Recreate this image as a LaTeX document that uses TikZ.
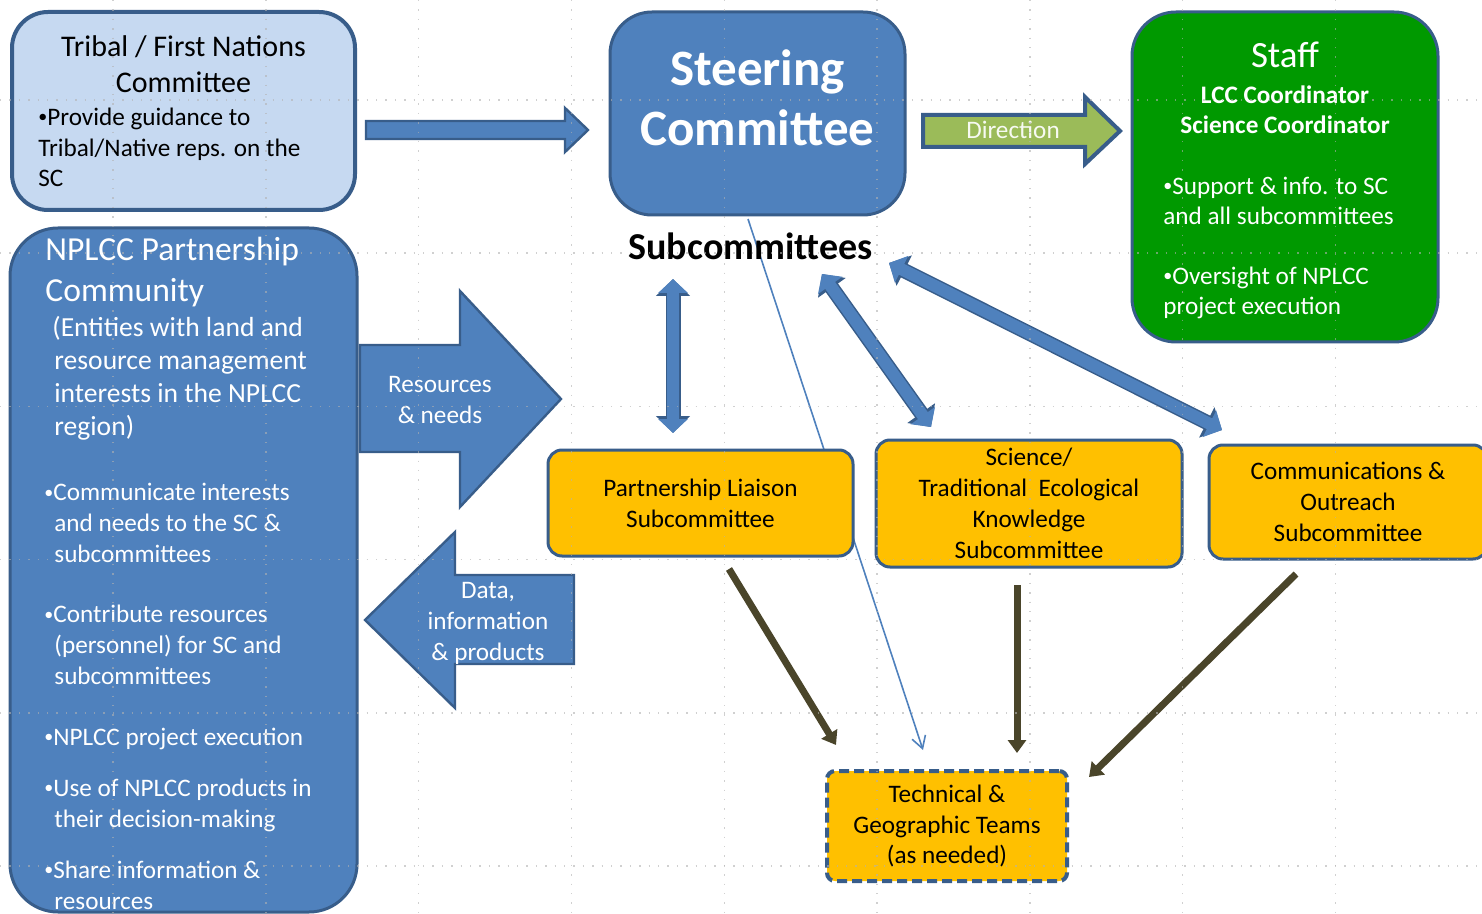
\documentclass[tikz,border=0pt]{standalone}
\usepackage{fontspec}
\setmainfont{Carlito}
\usetikzlibrary{arrows.meta}

\definecolor{sbfill}{RGB}{79,129,189}
\definecolor{sbline}{RGB}{56,93,138}
\definecolor{tribalfill}{RGB}{198,217,241}
\definecolor{staffgreen}{RGB}{0,153,0}
\definecolor{dirgreen}{RGB}{155,187,89}
\definecolor{subyellow}{RGB}{255,192,0}
\definecolor{darkolive}{RGB}{74,69,42}

\newcommand{\bodyfont}{\fontsize{12.6}{15.4}\selectfont}
\newcommand{\bul}{\raisebox{1.2pt}{\fontsize{9}{9}\selectfont •}}

\begin{document}
\begin{tikzpicture}[x=0.5pt,y=-0.5pt,
  panel/.style={draw=sbline,line width=1.5pt,inner sep=0pt},
  subbox/.style={panel,fill=subyellow,rounded corners=7pt,align=center,font=\bodyfont},
  label/.style={inner sep=0pt,font=\bodyfont},
  blockarrow/.style={draw=sbline,line width=1.2pt,line join=miter},
  dblarrow/.style={sbfill,line width=6pt,{Triangle[width=14.5pt,length=7pt]}-{Triangle[width=14.5pt,length=7pt]},
    preaction={draw=sbline,line width=7.5pt,{Triangle[width=16.5pt,length=8.5pt]}-{Triangle[width=16.5pt,length=8.5pt]}}},
  teamarrow/.style={draw=darkolive,line width=3.5pt,-{Triangle[width=9pt,length=6.5pt]}},
  thinarrow/.style={draw=sbfill,line width=0.8pt,-{Straight Barb[width=7pt,length=6pt,line width=0.8pt]}},
  gridline/.style={gray!60,line width=0.7pt,dash pattern=on 0.7pt off 4pt,opacity=0.6}]

  \useasboundingbox (0,0) rectangle (1482,914);
  \clip (0,0) rectangle (1482,914);
  \fill[white] (0,0) rectangle (1482,914);

  % Free ends of the connectors
  \coordinate (sclow) at (748,219);
  \coordinate (techd) at (923,750);
  \coordinate (plb) at (729,569);
  \coordinate (techa) at (836,745);
  \coordinate (tekb) at (1017,585);
  \coordinate (techb) at (1017,753);
  \coordinate (cob) at (1296,574);
  \coordinate (techc) at (1089,777);
  \coordinate (subsa) at (673,279);
  \coordinate (pla) at (673,433);
  \coordinate (subsb) at (822,274);
  \coordinate (teka) at (931,427);
  \coordinate (subsc) at (889,263);
  \coordinate (coa) at (1222,430);

  % Links down to the teams
  \draw[thinarrow] (sclow) -- (techd);
  \draw[teamarrow] (plb) -- (techa);
  \draw[teamarrow] (tekb) -- (techb);
  \draw[teamarrow] (cob) -- (techc);

  % Committees
  \node[panel,fill=tribalfill,line width=2pt,rounded corners=18pt,minimum width=171.5pt,minimum height=99pt] (tribal) at (183.5,111) {};
  \node[panel,fill=sbfill,rounded corners=21pt,minimum width=147.5pt,minimum height=101.5pt] (sc) at (757.5,113.5) {};
  \node[panel,fill=staffgreen,rounded corners=22pt,minimum width=153pt,minimum height=165pt] (staff) at (1285,177) {};
  \node[panel,fill=sbfill,rounded corners=24pt,minimum width=173.5pt,minimum height=342pt] (nplcc) at (183.5,570) {};

  % (base of a multi-line label = its last line)
  \node[label,anchor=base,align=center,font=\fontsize{15}{18}\selectfont] (tribaltitle) at (183.5,93) {Tribal / First Nations\\Committee};
  \node[label,anchor=base west,align=left] (tribalnote) at (38,187) {\bul Provide guidance to\\Tribal/Native reps. on the\\SC};
  \node[label,anchor=base,align=center,text=white,font=\bfseries\fontsize{25.5}{30}\selectfont] (sctitle) at (757.5,146) {Steering\\Committee};
  \node[label,anchor=base,font=\bfseries\fontsize{19}{22}\selectfont] (subs) at (750.5,260) {Subcommittees};

  \node[label,anchor=base,text=white,font=\fontsize{18.5}{22}\selectfont] (stafftitle) at (1285,68) {Staff};
  \node[label,anchor=base,align=center,text=white,font=\bfseries\bodyfont] (staffroles) at (1285,134) {LCC Coordinator\\Science Coordinator};
  \node[label,anchor=base west,align=left,text=white] (staffsupport) at (1163,225) {\bul Support \& info. to SC\\and all subcommittees};
  \node[label,anchor=base west,align=left,text=white] (staffoversight) at (1163,315) {\bul Oversight of NPLCC\\project execution};

  \node[label,anchor=base west,align=left,text=white,font=\fontsize{16.8}{20.5}\selectfont] (nplcctitle) at (45,302) {NPLCC Partnership\\Community};
  \node[label,anchor=base west,align=left,text=white,font=\fontsize{13.8}{16.6}\selectfont] (nplccscope) at (52,436) {(Entities with land and\\\hspace*{1pt}resource management\\\hspace*{1pt}interests in the NPLCC\\\hspace*{1pt}region)};
  \node[label,anchor=base west,align=left,text=white] (nplccone) at (44,562) {\bul Communicate interests\\\hspace*{5pt}and needs to the SC \&\\\hspace*{5pt}subcommittees};
  \node[label,anchor=base west,align=left,text=white] (nplcctwo) at (44,684) {\bul Contribute resources\\\hspace*{5pt}(personnel) for SC and\\\hspace*{5pt}subcommittees};
  \node[label,anchor=base west,align=left,text=white] (nplccthree) at (44,745) {\bul NPLCC project execution};
  \node[label,anchor=base west,align=left,text=white] (nplccfour) at (44,827) {\bul Use of NPLCC products in\\\hspace*{5pt}their decision-making};
  \node[label,anchor=base west,align=left,text=white] (nplccfive) at (44,909) {\bul Share information \&\\\hspace*{5pt}resources};

  % Block arrows
  \draw[blockarrow,fill=sbfill] (366,121) -- (565,121) -- (565,108) -- (588,130) -- (565,152) -- (565,139) -- (366,139) -- cycle;
  \draw[blockarrow,fill=sbfill] (360,345) -- (460,345) -- (460,291) -- (561,399) -- (460,507) -- (460,452) -- (360,452) -- cycle;
  \draw[blockarrow,fill=sbfill] (365,620) -- (455,532) -- (455,575) -- (574,575) -- (574,664) -- (455,664) -- (455,708) -- cycle;
  \draw[blockarrow,fill=dirgreen,line width=2pt] (923,115) -- (1085,115) -- (1085,97) -- (1120,131) -- (1085,164) -- (1085,147) -- (923,147) -- cycle;
  \node[label,anchor=base,align=center,text=white] (restext) at (440,423) {Resources\\\& needs};
  \node[label,anchor=base,align=center,text=white] (datatext) at (488,660) {Data,\\information\\\& products};
  \node[label,anchor=base,text=white!92!dirgreen] (dirtext) at (1013,139) {Direction};

  % Subcommittees
  \node[subbox,minimum width=152.5pt,minimum height=53pt] (pl) at (700.5,503) {Partnership Liaison\\Subcommittee};
  \node[subbox,minimum width=153pt,minimum height=63.5pt] (tek) at (1029,503.5) {Science/\\Traditional\ \ Ecological\\Knowledge\\Subcommittee};
  \node[subbox,minimum width=139pt,minimum height=57pt] (co) at (1348,502) {Communications \&\\Outreach\\Subcommittee};
  \node[subbox,rounded corners=4pt,line width=2pt,dash pattern=on 5pt off 2.5pt,minimum width=120pt,minimum height=55pt] (tech) at (947,826) {Technical \&\\Geographic Teams\\(as needed)};

  \draw[dblarrow] (subsa) -- (pla);
  \draw[dblarrow] (subsb) -- (teka);
  \draw[dblarrow] (subsc) -- (coa);

  % Slide grid
  \foreach \gx in {0,...,8}
    \draw[gridline] ({113+152.8*\gx},0) -- ({113+152.8*\gx},914);
  \foreach \gy in {0,...,5}
    \draw[gridline] (0,{100+153.2*\gy}) -- (1482,{100+153.2*\gy});
\end{tikzpicture}
\end{document}
